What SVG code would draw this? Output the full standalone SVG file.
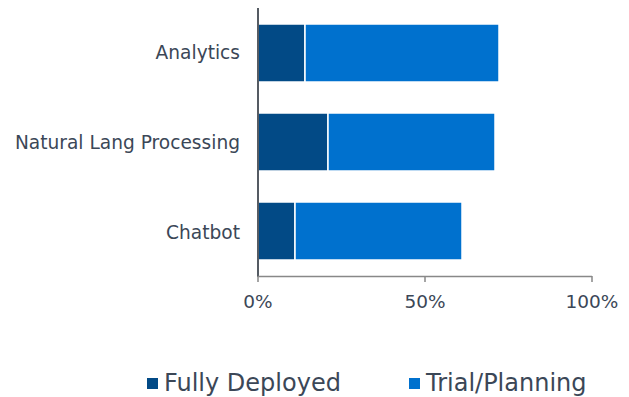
<svg xmlns="http://www.w3.org/2000/svg" width="629" height="397" viewBox="0 0 629 397">
  <style>
    .lbl { font-family: "DejaVu Sans", Verdana, sans-serif; fill: #3b4757; }
    .cat { font-size: 18.6px; text-anchor: end; }
    .tick { font-size: 18.5px; text-anchor: middle; }
    .leg { font-size: 24px; }
    .dep { fill: #024a86; stroke: #ffffff; stroke-width: 1.5; }
    .trial { fill: #0071ce; stroke: #ffffff; stroke-width: 1.5; }
    .axis { stroke: #888888; stroke-width: 1.5; fill: none; }
  </style>
  <rect width="629" height="397" fill="#ffffff"/>

  <!-- bars: 0%..100% maps to x 258..592 -->
  <g id="bar-analytics">
    <rect class="dep" x="258" y="24" width="47" height="58"/>
    <rect class="trial" x="305" y="24" width="194" height="58"/>
  </g>
  <g id="bar-nlp">
    <rect class="dep" x="258" y="113" width="70" height="58"/>
    <rect class="trial" x="328" y="113" width="167" height="58"/>
  </g>
  <g id="bar-chatbot">
    <rect class="dep" x="258" y="202" width="37" height="58"/>
    <rect class="trial" x="295" y="202" width="167" height="58"/>
  </g>

  <!-- axes -->
  <g id="axes">
    <line x1="258" y1="8" x2="258" y2="277" stroke="#555b63" stroke-width="2"/>
    <path class="axis" d="M258 276.5 H592 M258 276 V282 M425 276 V282 M592 276 V282"/>
  </g>

  <!-- category labels -->
  <g id="categories" class="lbl cat">
    <text x="240" y="58.5">Analytics</text>
    <text x="240" y="148.5">Natural Lang Processing</text>
    <text x="240" y="238.5">Chatbot</text>
  </g>

  <!-- value axis labels -->
  <g id="ticks" class="lbl tick">
    <text x="258" y="308">0%</text>
    <text x="425" y="308">50%</text>
    <text x="592" y="308">100%</text>
  </g>

  <!-- legend -->
  <g id="legend">
    <rect x="147" y="378" width="11" height="11" fill="#024a86"/>
    <text class="lbl leg" x="164" y="391">Fully Deployed</text>
    <rect x="409" y="378" width="11" height="11" fill="#0071ce"/>
    <text class="lbl leg" x="426" y="391">Trial/Planning</text>
  </g>
</svg>
